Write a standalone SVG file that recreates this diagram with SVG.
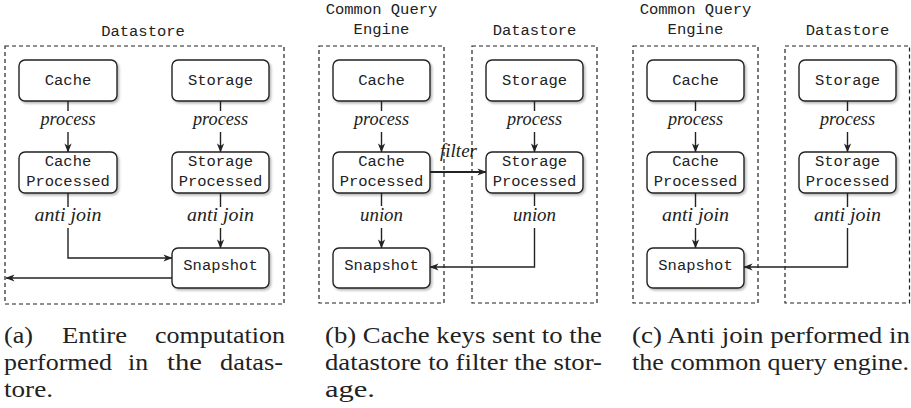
<svg xmlns="http://www.w3.org/2000/svg" width="911" height="408" viewBox="0 0 911 408">
  <style>
    .frame { fill: none; stroke: #222; stroke-width: 1.2; stroke-dasharray: 4 3; }
    .node rect { fill: #fff; stroke: #222; stroke-width: 1.4; filter: url(#shadow); }
    .tt { font-family: 'Liberation Mono', 'Courier New', monospace; font-size: 15.5px; fill: #222; text-anchor: middle; }
    .lbl { font-family: 'Liberation Serif', 'Times New Roman', Times, serif; font-style: italic; font-size: 18.5px; fill: #222; text-anchor: middle; }
    .edge { fill: none; stroke: #222; stroke-width: 1.4; }
    .edge.arrow { marker-end: url(#head); }
    .edge.bold { stroke-width: 2; }
    .cap { font-family: 'Liberation Serif', 'Times New Roman', Times, serif; font-size: 23.5px; fill: #222; }
  </style>
  <defs>
    <filter id="shadow" x="-10%" y="-10%" width="130%" height="140%">
      <feDropShadow dx="1.6" dy="1.8" stdDeviation="1.2" flood-color="#000" flood-opacity="0.28"/>
    </filter>
    <marker id="head" viewBox="0 0 10 8" refX="9.5" refY="4" markerWidth="9" markerHeight="7.5" markerUnits="userSpaceOnUse" orient="auto">
      <path d="M0,0 L10,4 L0,8 L2.8,4 Z" fill="#222"/>
    </marker>
  </defs>

  <!-- (a) everything inside the datastore -->
  <g id="a-frame">
    <rect class="frame" x="5" y="46" width="279" height="258"/>
    <text class="tt" x="143" y="36">Datastore</text>
  </g>
  <g id="a-cache" class="node"><rect x="19" y="60" width="98" height="41" rx="6"/><text class="tt" x="68" y="85">Cache</text></g>
  <g id="a-storage" class="node"><rect x="172" y="60" width="97" height="41" rx="6"/><text class="tt" x="220.5" y="85">Storage</text></g>
  <g id="a-cache-processed" class="node"><rect x="19" y="152" width="98" height="41" rx="6"/><text class="tt" x="68" y="166">Cache</text><text class="tt" x="68" y="186">Processed</text></g>
  <g id="a-storage-processed" class="node"><rect x="172" y="152" width="97" height="41" rx="6"/><text class="tt" x="220.5" y="166">Storage</text><text class="tt" x="220.5" y="186">Processed</text></g>
  <g id="a-snapshot" class="node"><rect x="172" y="248" width="97" height="40" rx="6"/><text class="tt" x="220.5" y="270">Snapshot</text></g>

  <!-- (b) cache keys pushed to the datastore -->
  <g id="b-engine-frame">
    <rect class="frame" x="319" y="46" width="125" height="257"/>
    <text class="tt" x="381.5" y="14">Common Query</text>
    <text class="tt" x="381.5" y="34">Engine</text>
  </g>
  <g id="b-store-frame">
    <rect class="frame" x="472" y="46" width="125" height="257"/>
    <text class="tt" x="534.5" y="35">Datastore</text>
  </g>
  <g id="b-cache" class="node"><rect x="333" y="60" width="97" height="41" rx="6"/><text class="tt" x="381.5" y="85">Cache</text></g>
  <g id="b-storage" class="node"><rect x="486" y="60" width="97" height="41" rx="6"/><text class="tt" x="534.5" y="85">Storage</text></g>
  <g id="b-cache-processed" class="node"><rect x="333" y="152" width="97" height="41" rx="6"/><text class="tt" x="381.5" y="166">Cache</text><text class="tt" x="381.5" y="186">Processed</text></g>
  <g id="b-storage-processed" class="node"><rect x="486" y="152" width="97" height="41" rx="6"/><text class="tt" x="534.5" y="166">Storage</text><text class="tt" x="534.5" y="186">Processed</text></g>
  <g id="b-snapshot" class="node"><rect x="333" y="248" width="97" height="40" rx="6"/><text class="tt" x="381.5" y="270">Snapshot</text></g>

  <!-- (c) anti join in the query engine -->
  <g id="c-engine-frame">
    <rect class="frame" x="633" y="46" width="125" height="257"/>
    <text class="tt" x="695.5" y="14">Common Query</text>
    <text class="tt" x="695.5" y="34">Engine</text>
  </g>
  <g id="c-store-frame">
    <rect class="frame" x="785" y="46" width="124.5" height="257"/>
    <text class="tt" x="847.5" y="35">Datastore</text>
  </g>
  <g id="c-cache" class="node"><rect x="647" y="60" width="97" height="41" rx="6"/><text class="tt" x="695.5" y="85">Cache</text></g>
  <g id="c-storage" class="node"><rect x="799" y="60" width="97" height="41" rx="6"/><text class="tt" x="847.5" y="85">Storage</text></g>
  <g id="c-cache-processed" class="node"><rect x="647" y="152" width="97" height="41" rx="6"/><text class="tt" x="695.5" y="166">Cache</text><text class="tt" x="695.5" y="186">Processed</text></g>
  <g id="c-storage-processed" class="node"><rect x="799" y="152" width="97" height="41" rx="6"/><text class="tt" x="847.5" y="166">Storage</text><text class="tt" x="847.5" y="186">Processed</text></g>
  <g id="c-snapshot" class="node"><rect x="647" y="248" width="97" height="40" rx="6"/><text class="tt" x="695.5" y="270">Snapshot</text></g>

  <g id="connectors">
    <!-- (a) -->
    <path class="edge" d="M68,101 V111"/><path class="edge arrow" d="M68,132 V152"/>
    <text class="lbl" x="68" y="125" textLength="55" lengthAdjust="spacingAndGlyphs">process</text>
    <path class="edge" d="M220.5,101 V111"/><path class="edge arrow" d="M220.5,132 V152"/>
    <text class="lbl" x="220.5" y="125" textLength="55" lengthAdjust="spacingAndGlyphs">process</text>
    <path class="edge" d="M68,193 V207"/><path class="edge arrow" d="M68,228 V258 H172"/>
    <text class="lbl" x="68" y="221" textLength="67" lengthAdjust="spacingAndGlyphs">anti join</text>
    <path class="edge" d="M220.5,193 V207"/><path class="edge arrow" d="M220.5,228 V248"/>
    <text class="lbl" x="220.5" y="221" textLength="67" lengthAdjust="spacingAndGlyphs">anti join</text>
    <path class="edge arrow" d="M172,278 H6"/>

    <!-- (b) -->
    <path class="edge" d="M381.5,101 V111"/><path class="edge arrow" d="M381.5,132 V152"/>
    <text class="lbl" x="381.5" y="125" textLength="55" lengthAdjust="spacingAndGlyphs">process</text>
    <path class="edge" d="M534.5,101 V111"/><path class="edge arrow" d="M534.5,132 V152"/>
    <text class="lbl" x="534.5" y="125" textLength="55" lengthAdjust="spacingAndGlyphs">process</text>
    <path class="edge bold arrow" d="M430,172 H486"/>
    <text class="lbl" x="458.5" y="157" textLength="37" lengthAdjust="spacingAndGlyphs">filter</text>
    <path class="edge" d="M381.5,193 V206"/><path class="edge arrow" d="M381.5,228 V248"/>
    <text class="lbl" x="381.5" y="221" textLength="43" lengthAdjust="spacingAndGlyphs">union</text>
    <path class="edge" d="M534.5,193 V206"/><path class="edge arrow" d="M534.5,228 V267 H430"/>
    <text class="lbl" x="534.5" y="221" textLength="43" lengthAdjust="spacingAndGlyphs">union</text>

    <!-- (c) -->
    <path class="edge" d="M695.5,101 V111"/><path class="edge arrow" d="M695.5,132 V152"/>
    <text class="lbl" x="695.5" y="125" textLength="55" lengthAdjust="spacingAndGlyphs">process</text>
    <path class="edge" d="M847.5,101 V111"/><path class="edge arrow" d="M847.5,132 V152"/>
    <text class="lbl" x="847.5" y="125" textLength="55" lengthAdjust="spacingAndGlyphs">process</text>
    <path class="edge" d="M695.5,193 V207"/><path class="edge arrow" d="M695.5,228 V248"/>
    <text class="lbl" x="695.5" y="221" textLength="67" lengthAdjust="spacingAndGlyphs">anti join</text>
    <path class="edge" d="M847.5,193 V207"/><path class="edge arrow" d="M847.5,228 V267 H744"/>
    <text class="lbl" x="847.5" y="221" textLength="67" lengthAdjust="spacingAndGlyphs">anti join</text>
  </g>

  <!-- sub-captions; justified lines are set word by word -->
  <g id="captions" class="cap">
    <text x="4" y="343" textLength="29" lengthAdjust="spacingAndGlyphs">(a)</text>
    <text x="62" y="343" textLength="65" lengthAdjust="spacingAndGlyphs">Entire</text>
    <text x="155" y="343" textLength="130" lengthAdjust="spacingAndGlyphs">computation</text>
    <text x="4" y="370" textLength="108" lengthAdjust="spacingAndGlyphs">performed</text>
    <text x="128" y="370" textLength="20" lengthAdjust="spacingAndGlyphs">in</text>
    <text x="167" y="370" textLength="35" lengthAdjust="spacingAndGlyphs">the</text>
    <text x="220" y="370" textLength="63" lengthAdjust="spacingAndGlyphs">datas-</text>
    <text x="4" y="397" textLength="49" lengthAdjust="spacingAndGlyphs">tore.</text>
    <text x="325" y="343" textLength="277" lengthAdjust="spacingAndGlyphs">(b) Cache keys sent to the</text>
    <text x="325" y="370" textLength="277" lengthAdjust="spacingAndGlyphs">datastore to filter the stor-</text>
    <text x="325" y="397" textLength="50" lengthAdjust="spacingAndGlyphs">age.</text>
    <text x="632" y="343" textLength="278" lengthAdjust="spacingAndGlyphs">(c) Anti join performed in</text>
    <text x="632" y="370" textLength="277" lengthAdjust="spacingAndGlyphs">the common query engine.</text>
  </g>
</svg>
